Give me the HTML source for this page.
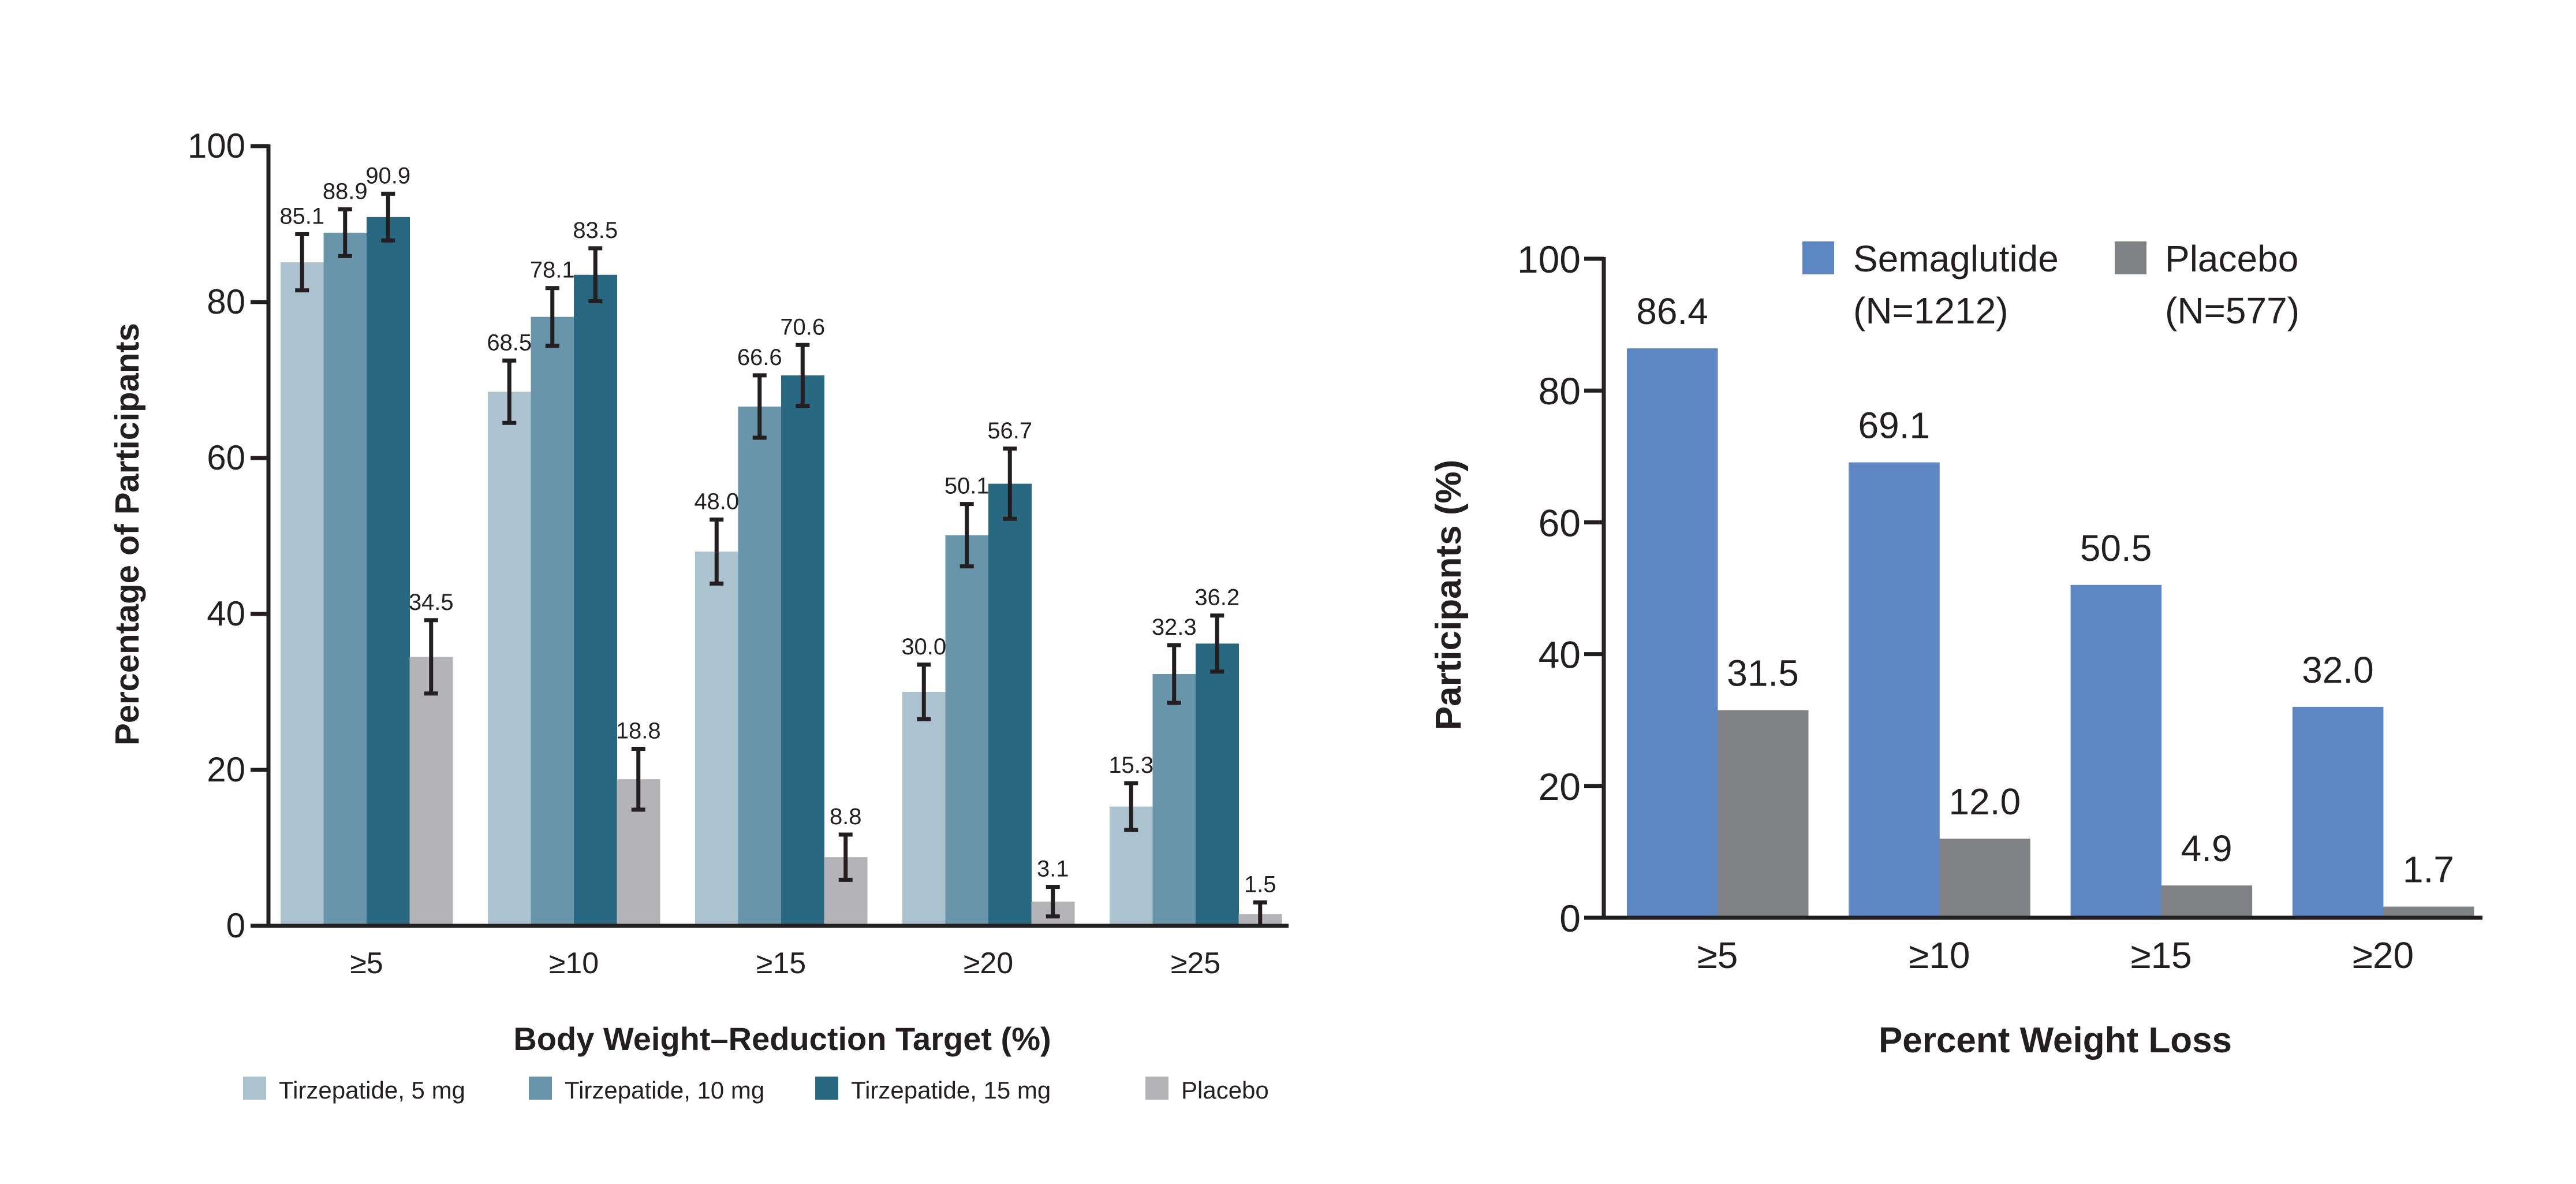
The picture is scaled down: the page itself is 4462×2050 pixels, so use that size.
<!DOCTYPE html>
<html><head><meta charset="utf-8"><style>
html,body{margin:0;padding:0;background:#fff}
svg{display:block}
text{font-family:"Liberation Sans",sans-serif;fill:#231f20}
</style></head><body>
<svg id="c" width="4462" height="2050" viewBox="0 0 4462 2050" xmlns="http://www.w3.org/2000/svg"></svg>
<script>
// Left chart data
const leftCats = ["≥5","≥10","≥15","≥20","≥25"];
const tz5 = [85.1,68.5,48.0,30.0,15.3];
const tz10 = [88.9,78.1,66.6,50.1,32.3];
const tz15 = [90.9,83.5,70.6,56.7,36.2];
const placeboL = [34.5,18.8,8.8,3.1,1.5];
const err5 = [3.6,4.0,4.1,3.5,3.0];
const err10 = [3.0,3.7,4.0,4.0,3.7];
const err15 = [3.0,3.4,3.9,4.5,3.6];
const errP = [4.7,3.9,2.9,1.9,1.5];
const leftSeriesNames = ["Tirzepatide, 5 mg","Tirzepatide, 10 mg","Tirzepatide, 15 mg","Placebo"];
const leftTicks = [0,20,40,60,80,100];
// Right chart data
const rightCats = ["≥5","≥10","≥15","≥20"];
const sema = [86.4,69.1,50.5,32.0];
const placeboR = [31.5,12.0,4.9,1.7];
const rightTicks = [0,20,40,60,80,100];

const NS="http://www.w3.org/2000/svg";
const svg=document.getElementById('c');
function mk(tag,attrs,parent){const e=document.createElementNS(NS,tag);for(const k in attrs)e.setAttribute(k,attrs[k]);(parent||svg).appendChild(e);return e;}
function txt(s,attrs,parent){const e=mk('text',attrs,parent);e.textContent=s;return e;}

// ---------- LEFT ----------
const L={x0:465,y0:1603,y100:253,g0:486,pitch:359,bw:74.5};
const ly=v=>L.y0-(L.y0-L.y100)*v/100;
const lg=mk('g',{});


const lcols=["#abc3ce","#6995aa","#286880","#b3b3b8"];
const lser=[tz5,tz10,tz15,placeboL];
const lerr=[err5,err10,err15,errP];
leftCats.forEach((c,i)=>{
  lser.forEach((s,j)=>{
    const x=L.g0+i*L.pitch+j*L.bw;
    const r=mk('rect',{x:x,y:ly(s[i]),width:L.bw+0.5,height:L.y0-ly(s[i]),fill:lcols[j]},lg);
    
    
    const cx=x+L.bw/2, t=ly(s[i]+lerr[j][i]), b=ly(Math.max(0,s[i]-lerr[j][i]));
    const eb=mk('path',{d:`M${cx},${t}V${b}M${cx-12},${t}H${cx+12}M${cx-12},${b}H${cx+12}`,stroke:"#231f20","stroke-width":7,fill:"none"},lg);
    
    
    const lb=txt(s[i].toFixed(1),{x:cx,y:t-18,"font-size":40,"text-anchor":"middle"},lg);
    
    
  });
  const tl=txt(c,{x:L.g0+i*L.pitch+2*L.bw,y:1685,"font-size":52,"text-anchor":"middle"},lg);
  
  
});
leftTicks.forEach(v=>{
  mk('line',{x1:434,x2:L.x0,y1:ly(v),y2:ly(v),stroke:"#231f20","stroke-width":7},lg);
  const t=txt(String(v),{x:425,y:ly(v)+20,"font-size":60,"text-anchor":"end"},lg);
  
  
});
mk('line',{x1:L.x0,x2:L.x0,y1:L.y100-3,y2:L.y0+3,stroke:"#231f20","stroke-width":7},lg);
mk('line',{x1:L.x0,x2:2232,y1:L.y0,y2:L.y0,stroke:"#231f20","stroke-width":7},lg);
const lyt=txt("Percentage of Participants",{x:0,y:0,"font-size":58,"font-weight":"bold","text-anchor":"middle",transform:"translate(240,925) rotate(-90)"},lg);


const lxt=txt("Body Weight–Reduction Target (%)",{x:1355,y:1818,"font-size":56,"font-weight":"bold","text-anchor":"middle"},lg);


const legX=[421,916,1412,1984];
leftSeriesNames.forEach((n,j)=>{
  const r=mk('rect',{x:legX[j],y:1864,width:40,height:40,fill:lcols[j]},lg);
  
  
  const t=txt(n,{x:legX[j]+62,y:1902,"font-size":42},lg);
  
  
});

// ---------- RIGHT ----------
const R={x0:2778,y0:1589,y100:448,g0:2818,pitch:384.3,bw:157};
const ry=v=>R.y0-(R.y0-R.y100)*v/100;
const rg=mk('g',{});


const rcols=["#5d87c2","#808184"];
const rser=[sema,placeboR];
rightCats.forEach((c,i)=>{
  rser.forEach((s,j)=>{
    const x=R.g0+i*R.pitch+j*R.bw;
    const r=mk('rect',{x:x,y:ry(s[i]),width:R.bw+0.5,height:R.y0-ry(s[i]),fill:rcols[j]},rg);
    
    
    const lb=txt(s[i].toFixed(1),{x:x+R.bw/2,y:ry(s[i])-42,"font-size":64,"text-anchor":"middle"},rg);
    
    
  });
  const tl=txt(c,{x:R.g0+i*R.pitch+R.bw,y:1676,"font-size":64,"text-anchor":"middle"},rg);
  
  
});
rightTicks.forEach(v=>{
  mk('line',{x1:2744,x2:R.x0,y1:ry(v),y2:ry(v),stroke:"#231f20","stroke-width":7},rg);
  const t=txt(String(v),{x:2738,y:ry(v)+24,"font-size":66,"text-anchor":"end"},rg);
  
  
});
mk('line',{x1:R.x0,x2:R.x0,y1:R.y100-3,y2:R.y0+3,stroke:"#231f20","stroke-width":7},rg);
mk('line',{x1:R.x0,x2:4300,y1:R.y0,y2:R.y0,stroke:"#231f20","stroke-width":7},rg);
const ryt=txt("Participants (%)",{x:0,y:0,"font-size":62,"font-weight":"bold","text-anchor":"middle",transform:"translate(2530,1030) rotate(-90)"},rg);


const rxt=txt("Percent Weight Loss",{x:3560,y:1822,"font-size":62,"font-weight":"bold","text-anchor":"middle"},rg);


const rleg=[["Semaglutide","(N=1212)",3122,3210],["Placebo","(N=577)",3663,3750]];
rleg.forEach((l,j)=>{
  const r=mk('rect',{x:l[2],y:418,width:55,height:57,fill:rcols[j]},rg);
  
  
  const t=txt(l[0],{x:l[3],y:470,"font-size":64},rg);
  
  
  const t2=txt(l[1],{x:l[3],y:560,"font-size":64},rg);
  
  
});
</script>
</body></html>
